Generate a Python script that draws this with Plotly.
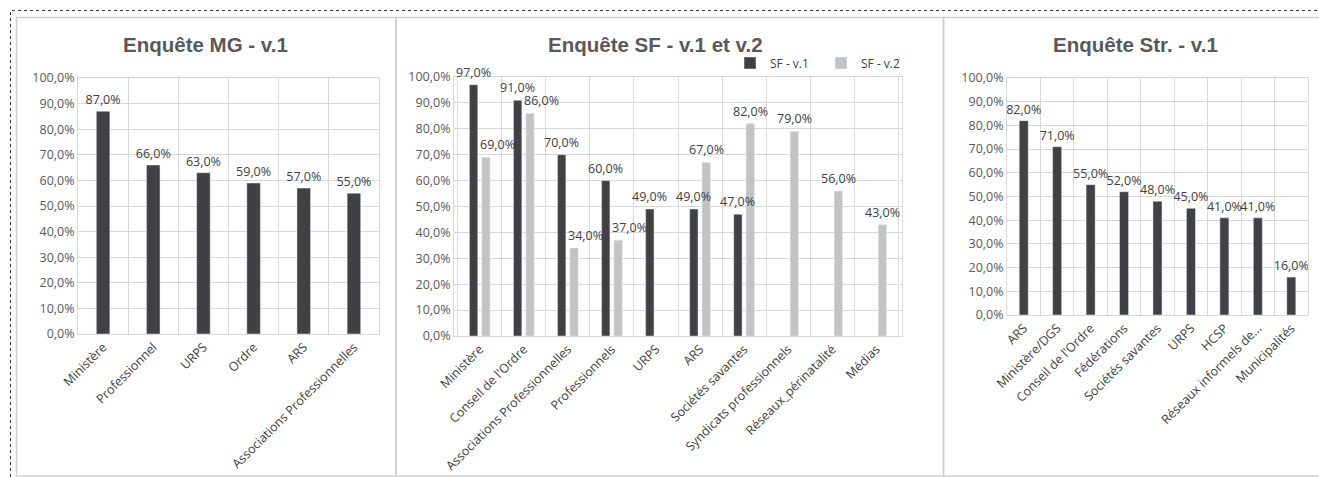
import plotly.graph_objects as go

# ---------------- data ----------------
mg_categories = ["Ministère", "Professionnel", "URPS", "Ordre", "ARS", "Associations Professionnelles"]
mg_values = [87, 66, 63, 59, 57, 55]

sf_categories = ["Ministère", "Conseil de l'Ordre", "Associations Professionnelles", "Professionnels",
                 "URPS", "ARS", "Sociétés savantes", "Syndicats professionnels",
                 "Réseaux_périnatalité", "Médias"]
sf_v1_values = [97, 91, 70, 60, 49, 49, 47, None, None, None]
sf_v2_values = [69, 86, 34, 37, None, 67, 82, 79, 56, 43]

str_categories = ["ARS", "Ministère/DGS", "Conseil de l'Ordre", "Fédérations", "Sociétés savantes",
                  "URPS", "HCSP", "Réseaux informels de...", "Municipalités"]
str_values = [82, 71, 55, 52, 48, 45, 41, 41, 16]

titles = ["Enquête MG - v.1", "Enquête SF - v.1 et v.2", "Enquête Str. - v.1"]
series_names = ["SF - v.1", "SF - v.2"]
y_ticks = [0, 10, 20, 30, 40, 50, 60, 70, 80, 90, 100]


def pct(v):
    return f"{v:.1f}%".replace(".", ",")


y_ticktext = [pct(v) for v in y_ticks]

# ---------------- style ----------------
W, H = 1319, 477
DARK = "#414145"
LIGHT = "#c3c3c3"
GRID = "#d9d9d9"
TXT = "#404040"
TICKTXT = "#595959"
FONT = "Open Sans"
LBL = 12.5


def px(x):
    return x / W


def py(y):
    return 1 - y / H


# plot-area pixel boxes (left, right, top, bottom)
boxes = [(78, 379, 78, 334), (454, 902, 77, 336), (1007, 1308, 78, 315)]

fig = go.Figure()

text_font = dict(family=FONT, size=LBL, color=TXT)

fig.add_trace(go.Bar(x=mg_categories, y=mg_values, marker_color=DARK, showlegend=False,
                     text=[pct(v) for v in mg_values], textposition="outside", textfont=text_font,
                     constraintext="none", cliponaxis=False, width=0.27,
                     xaxis="x", yaxis="y"))

w_sf = 0.19
off_v1, off_v2 = -0.235, 0.045
fig.add_trace(go.Bar(x=sf_categories, y=sf_v1_values, name=series_names[0], marker_color=DARK,
                     width=w_sf, offset=off_v1, xaxis="x2", yaxis="y2"))
fig.add_trace(go.Bar(x=sf_categories, y=sf_v2_values, name=series_names[1], marker_color=LIGHT,
                     width=w_sf, offset=off_v2, xaxis="x2", yaxis="y2"))

fig.add_trace(go.Bar(x=str_categories, y=str_values, marker_color=DARK, showlegend=False,
                     text=[pct(v) for v in str_values], textposition="outside", textfont=text_font,
                     constraintext="none", cliponaxis=False, width=0.27,
                     xaxis="x3", yaxis="y3"))

# value labels of the grouped panel, as annotations so they stay on top of the bars
cat_px = (boxes[1][1] - boxes[1][0]) / len(sf_categories)
c1 = (off_v1 + w_sf / 2) * cat_px
c2 = (off_v2 + w_sf / 2) * cat_px
annos = []
for cat, v1, v2 in zip(sf_categories, sf_v1_values, sf_v2_values):
    if v1 is not None:
        annos.append(dict(x=cat, y=v1, xref="x2", yref="y2", text=pct(v1), showarrow=False,
                          xanchor="center", yanchor="bottom", xshift=c1, yshift=2,
                          font=text_font))
    if v2 is not None:
        if v1 is not None and v1 > v2:
            annos.append(dict(x=cat, y=v2, xref="x2", yref="y2", text=pct(v2), showarrow=False,
                              xanchor="left", yanchor="bottom", xshift=-2, yshift=2,
                              font=text_font))
        else:
            annos.append(dict(x=cat, y=v2, xref="x2", yref="y2", text=pct(v2), showarrow=False,
                              xanchor="center", yanchor="bottom", xshift=c2, yshift=2,
                              font=text_font))

layout = dict(
    width=W, height=H,
    margin=dict(l=0, r=0, t=0, b=0),
    paper_bgcolor="white", plot_bgcolor="white",
    barmode="group",
    font=dict(family=FONT, color=TXT),
    legend=dict(orientation="h", x=px(912), xanchor="right", y=py(63), yanchor="middle",
                font=dict(family=FONT, size=12, color=TXT), bgcolor="rgba(0,0,0,0)",
                entrywidth=46, entrywidthmode="pixels", itemwidth=30),
)

for i, (l, r, t, b) in enumerate(boxes):
    sfx = "" if i == 0 else str(i + 1)
    layout["xaxis" + sfx] = dict(
        domain=[px(l), px(r)], anchor="y" + sfx, type="category", tickson="boundaries",
        showgrid=True, gridcolor=GRID, gridwidth=1, ticks="", tickangle=-45,
        showline=True, linecolor=GRID, mirror=True,
        tickfont=dict(family=FONT, size=12.5, color=TXT), automargin=False,
    )
    layout["yaxis" + sfx] = dict(
        domain=[py(b), py(t)], anchor="x" + sfx, range=[0, 100], tickvals=y_ticks,
        ticktext=y_ticktext, showgrid=True, gridcolor=GRID, gridwidth=1,
        showline=True, linecolor=GRID, mirror=True, zeroline=False, ticks="",
        tickfont=dict(family=FONT, size=12.5, color=TICKTXT), automargin=False,
    )

fig.update_layout(**layout)

# panel titles
title_x = [205, 655, 1135]
for t, tx in zip(titles, title_x):
    annos.append(dict(text="<b>" + t + "</b>", x=px(tx), y=py(45), xref="paper", yref="paper",
                      showarrow=False, xanchor="center", yanchor="middle",
                      font=dict(family="Liberation Sans", size=20.5, color="#595959")))
fig.update_layout(annotations=annos)

# panel frames and outer dashed frame
shapes = [
    dict(type="rect", xref="paper", yref="paper", x0=px(10.5), x1=px(1325), y0=py(482), y1=py(10.5),
         line=dict(color="#333333", width=1, dash="dot")),
    dict(type="rect", xref="paper", yref="paper", x0=px(16.5), x1=px(396), y0=py(476), y1=py(17.5),
         line=dict(color="#d0d0d0", width=1.5)),
    dict(type="rect", xref="paper", yref="paper", x0=px(396), x1=px(943.5), y0=py(476), y1=py(17.5),
         line=dict(color="#d0d0d0", width=1.5)),
    dict(type="rect", xref="paper", yref="paper", x0=px(943.5), x1=px(1330), y0=py(476), y1=py(17.5),
         line=dict(color="#d0d0d0", width=1.5)),
]
fig.update_layout(shapes=shapes)

fig.write_html("out.html", config={"displayModeBar": False},
               post_script="document.body.style.margin='0';document.body.style.overflow='hidden';")
